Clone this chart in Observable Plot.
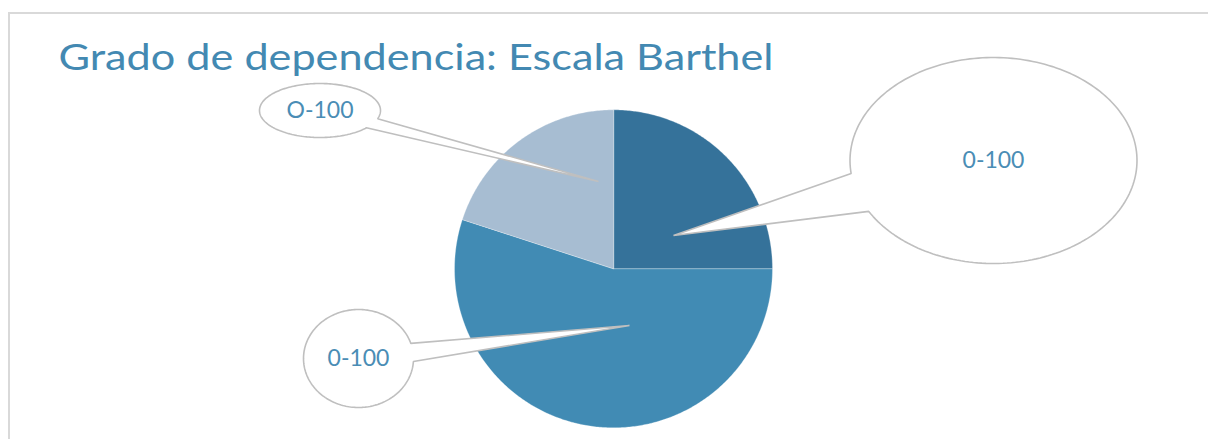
<!DOCTYPE html>
<html>
<head>
<meta charset="utf-8">
<script src="https://cdn.jsdelivr.net/npm/d3@7"></script>
<script src="https://cdn.jsdelivr.net/npm/@observablehq/plot@0.6"></script>
<style>
  html, body { margin: 0; padding: 0; background: #fff; overflow: hidden; }
  #wrap { position: relative; width: 1208px; height: 439px; }
  #frame { position: absolute; left: 8px; top: 12px; width: 1300px; height: 500px;
           border-left: 2px solid #d9d9d9; border-top: 2px solid #d9d9d9; box-sizing: border-box; }
  #chart { position: absolute; left: 0; top: 0; }
</style>
</head>
<body>
<div id="wrap"><div id="frame"></div><div id="chart"></div></div>
<script>
// ---- data ----
const title = "Grado de dependencia: Escala Barthel";
const labels = ["0-100", "0-100", "O-100"];
const values = [25, 55, 20];
const colors = ["#35729a", "#418bb4", "#a7bdd2"];

// ---- layout (annotation geometry, pixels) ----
const pieLayout = {cx: 613, cy: 268.3, r: 159};
const callouts = [
  {cx: 993, cy: 160, rx: 143.5, ry: 103, a: [851, 173], b: [868, 211], tip: [673, 235]},
  {cx: 358, cy: 358, rx: 55, ry: 49, a: [410, 343], b: [413, 361], tip: [629, 325]},
  {cx: 319.5, cy: 110, rx: 60.5, ry: 27, a: [376, 118], b: [365, 127], tip: [598, 181]}
];

// pie slices as polygons
const arcs = d3.pie().sort(null).value(d => d)(values);
const slicePts = [];
arcs.forEach((a, i) => {
  slicePts.push({x: pieLayout.cx, y: pieLayout.cy, z: i, fill: colors[i]});
  const n = Math.max(8, Math.ceil((a.endAngle - a.startAngle) / 0.01));
  for (let k = 0; k <= n; k++) {
    const t = a.startAngle + (a.endAngle - a.startAngle) * k / n;
    slicePts.push({x: pieLayout.cx + pieLayout.r * Math.sin(t), y: pieLayout.cy - pieLayout.r * Math.cos(t), z: i, fill: colors[i]});
  }
});

// callout bubbles as polygons
const bubblePts = [];
callouts.forEach((c, i) => {
  const ang = p => Math.atan2((p[1] - c.cy) / c.ry, (p[0] - c.cx) / c.rx);
  let a1 = ang(c.a), a2 = ang(c.b);
  const TWO = 2 * Math.PI;
  let d = ((a2 - a1) % TWO + TWO) % TWO;
  let s, e;
  if (d < Math.PI) { s = a2; e = a1 + TWO; } else { s = a1; e = a2 + TWO; }
  while (e < s) e += TWO;
  const n = 200;
  for (let k = 0; k <= n; k++) {
    const t = s + (e - s) * k / n;
    bubblePts.push({x: c.cx + c.rx * Math.cos(t), y: c.cy + c.ry * Math.sin(t), z: i});
  }
  bubblePts.push({x: c.tip[0], y: c.tip[1], z: i});
});

const labelData = callouts.map((c, i) => ({x: c.cx, y: c.cy, text: labels[i]}));

const plot = Plot.plot({
  width: 1208, height: 439, margin: 0,
  x: {domain: [0, 1208], range: [0, 1208], axis: null},
  y: {domain: [0, 439], range: [0, 439], axis: null},
  color: {type: "identity"},
  style: {background: "transparent", fontFamily: "Lato, 'Open Sans', sans-serif", overflow: "visible"},
  marks: [
    Plot.line(slicePts, {x: "x", y: "y", z: "z", fill: "fill", stroke: "#ffffff", strokeWidth: 0.6, strokeOpacity: 0.5, curve: "linear-closed"}),
    Plot.line(bubblePts, {x: "x", y: "y", z: "z", fill: "#ffffff", stroke: "#bfbfbf", strokeWidth: 1.6, strokeLinejoin: "miter", curve: "linear-closed"}),
    Plot.text(labelData, {x: "x", y: "y", text: "text", fill: "#4a8db5", fontSize: 23, lineAnchor: "middle", textAnchor: "middle"}),
    Plot.text([title], {x: () => 58, y: () => 69.5, text: d => d, fill: "#4389b2", fontSize: 37, textAnchor: "start", lineAnchor: "bottom"})
  ]
});
document.getElementById("chart").appendChild(plot);

// stretch the title to the reference width (wide geometric look)
for (const el of plot.querySelectorAll("text")) {
  if (el.textContent === title) {
    el.setAttribute("textLength", "715");
    el.setAttribute("lengthAdjust", "spacingAndGlyphs");
  }
}
</script>
</body>
</html>
